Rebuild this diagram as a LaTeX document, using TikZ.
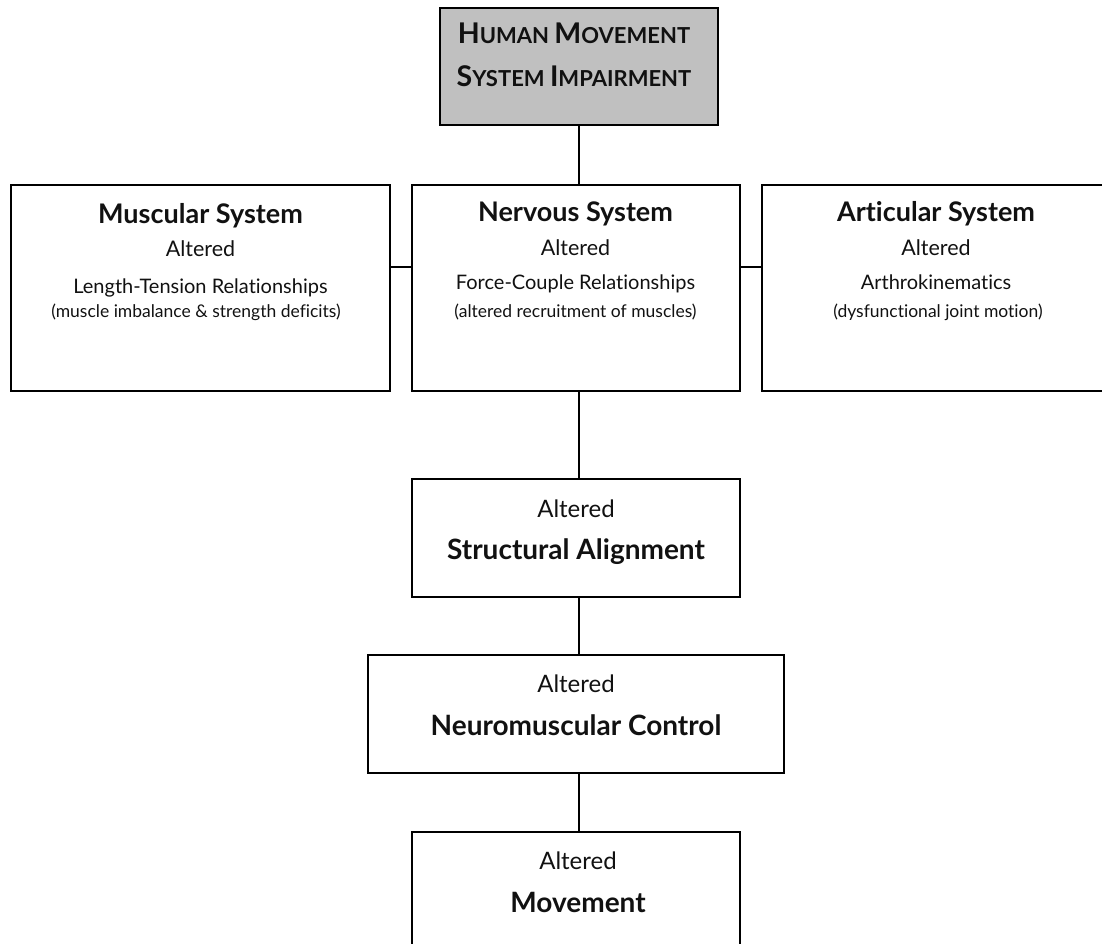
\documentclass[tikz,border=0pt]{standalone}
\usepackage{fontspec}
\setmainfont{Lato}[Ligatures=NoCommon]
\usetikzlibrary{positioning}
\definecolor{topgray}{HTML}{C0C0C0}
\definecolor{ink}{HTML}{111111}
\newcommand{\bigsc}[1]{{\fontsize{28.5}{28.5}\selectfont #1}}
\newcommand{\smallsc}[1]{{\fontsize{22}{22}\selectfont #1}}

\begin{document}
\begin{tikzpicture}[x=1pt,y=-1pt,
    box/.style={draw=black,line width=2.6pt,inner sep=0pt},
    link/.style={line width=2pt},
    toptxt/.style={anchor=base,text=ink,font=\fontsize{22}{22}\selectfont\bfseries},
    headtxt/.style={anchor=base,text=ink,font=\fontsize{27}{27}\selectfont\bfseries},
    alttxt/.style={anchor=base,text=ink,font=\fontsize{21.5}{21.5}\selectfont},
    subtxt/.style={anchor=base,text=ink,font=\fontsize{20}{20}\selectfont},
    partxt/.style={anchor=base,text=ink,font=\fontsize{17.5}{17.5}\selectfont},
    lowalt/.style={anchor=base,text=ink,font=\fontsize{24}{24}\selectfont},
    lowhead/.style={anchor=base,text=ink,font=\fontsize{28}{28}\selectfont\bfseries}]
\useasboundingbox (0,0) rectangle (1102,944);
\clip (0,0) rectangle (1102,944);
% boxes
\node[box,fill=topgray,minimum width=278pt,minimum height=117pt] (hmsi) at (579,66.5) {};
\node[box,minimum width=379pt,minimum height=206pt] (mus) at (200.5,288) {};
\node[box,minimum width=328pt,minimum height=206pt] (nerv) at (576,288) {};
\node[box,minimum width=348pt,minimum height=206pt] (artic) at (936,288) {};
\node[box,minimum width=328pt,minimum height=118pt] (align) at (576,538) {};
\node[box,minimum width=416pt,minimum height=118pt] (nmc) at (576,714) {};
\node[box,minimum width=328pt,minimum height=118pt] (move) at (576,891) {};
% connectors
\coordinate (midrow) at (0,267);
\draw[link] (hmsi.south) -- (hmsi.south |- nerv.north);
\draw[link] (mus.east |- midrow) -- (nerv.west |- midrow);
\draw[link] (nerv.east |- midrow) -- (artic.west |- midrow);
\draw[link] (hmsi.south |- nerv.south) -- (hmsi.south |- align.north);
\draw[link] (hmsi.south |- align.south) -- (hmsi.south |- nmc.north);
\draw[link] (hmsi.south |- nmc.south) -- (hmsi.south |- move.north);
% top box text
\node[toptxt] (hmsiA) at (574,44) {\bigsc{H}\smallsc{UMAN} \bigsc{M}\smallsc{OVEMENT}};
\node[toptxt] (hmsiB) at (574,87) {\bigsc{S}\smallsc{YSTEM} \bigsc{I}\smallsc{MPAIRMENT}};
% muscular
\node[headtxt] (musA) at (200.5,223) {Muscular System};
\node[alttxt] (musB) at (200.5,256) {Altered};
\node[subtxt] (musC) at (200.5,293) {Length-Tension Relationships};
\node[partxt] (musD) at (196,317) {(muscle imbalance \& strength deficits)};
% nervous
\node[headtxt] (nervA) at (575.5,222) {Nervous System};
\node[alttxt] (nervB) at (575.5,255) {Altered};
\node[subtxt] (nervC) at (575.5,289) {Force-Couple Relationships};
\node[partxt] (nervD) at (575.5,317) {(altered recruitment of muscles)};
% articular
\node[headtxt] (articA) at (936,222) {Articular System};
\node[alttxt] (articB) at (936,255) {Altered};
\node[subtxt] (articC) at (936,289) {Arthrokinematics};
\node[partxt] (articD) at (938,317) {(dysfunctional joint motion)};
% lower chain
\node[lowalt] (alignA) at (576,517) {Altered};
\node[lowhead] (alignB) at (576,559) {Structural Alignment};
\node[lowalt] (nmcA) at (576,692) {Altered};
\node[lowhead] (nmcB) at (576,735) {Neuromuscular Control};
\node[lowalt] (moveA) at (578,869) {Altered};
\node[lowhead] (moveB) at (578,912) {Movement};
\end{tikzpicture}
\end{document}
